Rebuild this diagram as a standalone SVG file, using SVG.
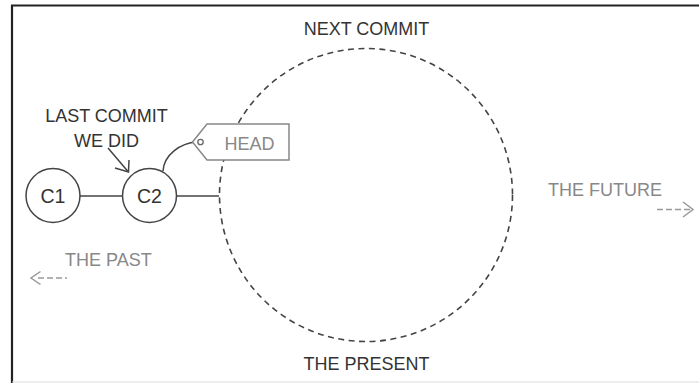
<svg xmlns="http://www.w3.org/2000/svg" width="699" height="383" viewBox="0 0 699 383">
<style>
text{font-family:"Liberation Sans",Arial,sans-serif;font-size:18px}
.dark{fill:#333}
.gray{fill:#888}
.clabel{font-size:19.5px}
.node{fill:#fff;stroke:#444;stroke-width:1.5}
.edge{fill:none;stroke:#444;stroke-width:1.5}
.gedge{fill:none;stroke:#999;stroke-width:1.5}
</style>
<rect x="0" y="0" width="699" height="383" fill="#fff"/>
<g id="frame">
<line x1="12" y1="5" x2="12" y2="383" stroke="#222" stroke-width="2.2"/>
<line x1="11" y1="5.5" x2="699" y2="5.5" stroke="#222" stroke-width="2.2"/>
<line x1="12" y1="382" x2="699" y2="382" stroke="#ddd" stroke-width="1"/>
</g>
<g id="present">
<circle cx="366" cy="195" r="146.5" fill="none" stroke="#444" stroke-width="1.6" stroke-dasharray="6,4.5"/>
<text x="366.5" y="35" text-anchor="middle" class="dark">NEXT COMMIT</text>
<text x="366.5" y="370" text-anchor="middle" class="dark">THE PRESENT</text>
</g>
<g id="connectors">
<line x1="80" y1="196" x2="122.5" y2="196" class="edge"/>
<line x1="176.5" y1="196" x2="219" y2="196" class="edge"/>
<path d="M163,171 C164,155 180,143 197,142" class="edge"/>
<line x1="108" y1="148" x2="128" y2="171.5" class="edge"/>
<polyline points="115,168 128.5,172 129,160" class="edge"/>
<line x1="38" y1="278" x2="67" y2="278" class="gedge" stroke-dasharray="6,3"/>
<polyline points="40.5,271.5 31,278 40.5,284.5" class="gedge"/>
<line x1="657" y1="209.5" x2="690" y2="209.5" class="gedge" stroke-dasharray="6,3"/>
<polyline points="683,202 693,209.5 683,217" class="gedge"/>
</g>
<g id="label-last">
<text x="106.5" y="122" text-anchor="middle" class="dark">LAST COMMIT</text>
<text x="106.5" y="147" text-anchor="middle" class="dark">WE DID</text>
</g>
<g id="c1">
<circle cx="53" cy="195.5" r="27" class="node"/>
<text x="53" y="202.5" text-anchor="middle" class="dark clabel">C1</text>
</g>
<g id="c2">
<circle cx="149.5" cy="195.5" r="27" class="node"/>
<text x="149.5" y="202.5" text-anchor="middle" class="dark clabel">C2</text>
</g>
<g id="head">
<polygon points="192.5,142 207,124 289,124 289,160 207,160" fill="#fff" stroke="#888" stroke-width="1.5"/>
<circle cx="200.5" cy="142" r="2.7" fill="#fff" stroke="#666" stroke-width="1.3"/>
<text x="249.5" y="149.5" text-anchor="middle" class="gray">HEAD</text>
</g>
<g id="past">
<text x="65" y="266" class="gray">THE PAST</text>
</g>
<g id="future">
<text x="548" y="196" class="gray">THE FUTURE</text>
</g>
</svg>
